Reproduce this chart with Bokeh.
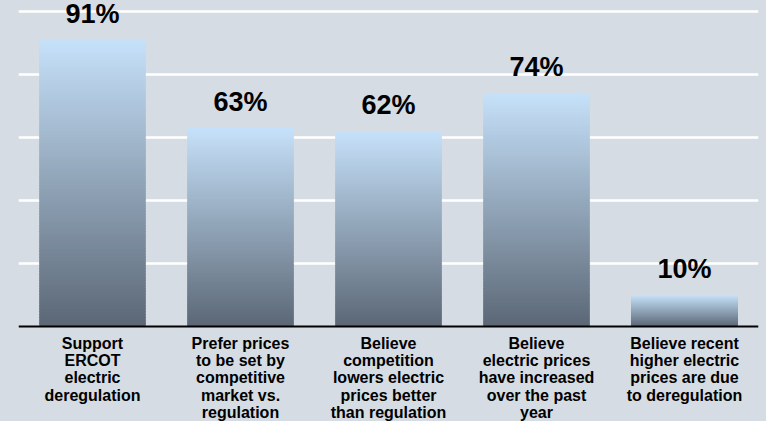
from bokeh.plotting import figure
from bokeh.models import FactorRange, Range1d, FixedTicker, ColumnDataSource, Span
from bokeh.core.properties import value
from bokeh.embed import file_html
from bokeh.resources import INLINE

categories = [
    "Support\nERCOT\nelectric\nderegulation",
    "Prefer prices\nto be set by\ncompetitive\nmarket vs.\nregulation",
    "Believe\ncompetition\nlowers electric\nprices better\nthan regulation",
    "Believe\nelectric prices\nhave increased\nover the past\nyear",
    "Believe recent\nhigher electric\nprices are due\nto deregulation",
]
values = [91, 63, 62, 74, 10]
value_labels = ["91%", "63%", "62%", "74%", "10%"]
grid_ticks = [20, 40, 60, 80, 100]

BG = "#d5dce3"
TOP = (198, 225, 250)
BOTTOM = (91, 103, 117)
FONT = "Liberation Sans"

W, H = 766, 421
# frame spans figure height: 100 at y=11, 0 at y=326
ppu = (326 - 11) / 100.0
y_top = 100 + 11 / ppu
y_bot = -(H - 326) / ppu

p = figure(width=W, height=H, x_range=FactorRange(*categories), y_range=Range1d(y_bot, y_top),
           output_backend="svg", toolbar_location=None,
           background_fill_color=BG, border_fill_color=BG,
           min_border_left=18, min_border_right=8, min_border_top=0, min_border_bottom=0)
p.outline_line_color = None

# gradient bars as stacked slices
N = 100
xs, bots, tops, cols = [], [], [], []
for k, v in zip(categories, values):
    for i in range(N):
        f = (i + 0.5) / N
        c = tuple(int(round(BOTTOM[j] + (TOP[j] - BOTTOM[j]) * f)) for j in range(3))
        xs.append(k)
        bots.append(v * i / N)
        tops.append(min(v, v * (i + 1) / N + 0.35))
        cols.append("#%02x%02x%02x" % c)
p.vbar(x=xs, bottom=bots, top=tops, width=0.72, fill_color=cols, line_color=None)

src = ColumnDataSource(dict(x=categories, y=values, t=value_labels))
p.text(x="x", y="y", text="t", source=src, y_offset=-26, text_align="center",
       text_baseline="alphabetic", text_font=value(FONT), text_font_style="bold",
       text_font_size="27px", text_color="#000000")

csrc = ColumnDataSource(dict(x=categories, y=[0] * len(categories), t=categories))
p.text(x="x", y="y", text="t", source=csrc, y_offset=8, text_align="center",
       text_baseline="top", text_font=value(FONT), text_font_style="bold",
       text_font_size="16px", text_line_height=1.02, text_color="#000000")

p.add_layout(Span(location=0, dimension="width", line_color="black", line_width=2))

p.xaxis.visible = False
p.yaxis.visible = False
p.ygrid.ticker = FixedTicker(ticks=grid_ticks)
p.ygrid.grid_line_color = "white"
p.ygrid.grid_line_width = 2.5
p.xgrid.grid_line_color = None

html = file_html(p, INLINE)
html = html.replace("<head>", "<head><style>html, body { background: #d5dce3; }</style>", 1)
open("out.html", "w").write(html)
